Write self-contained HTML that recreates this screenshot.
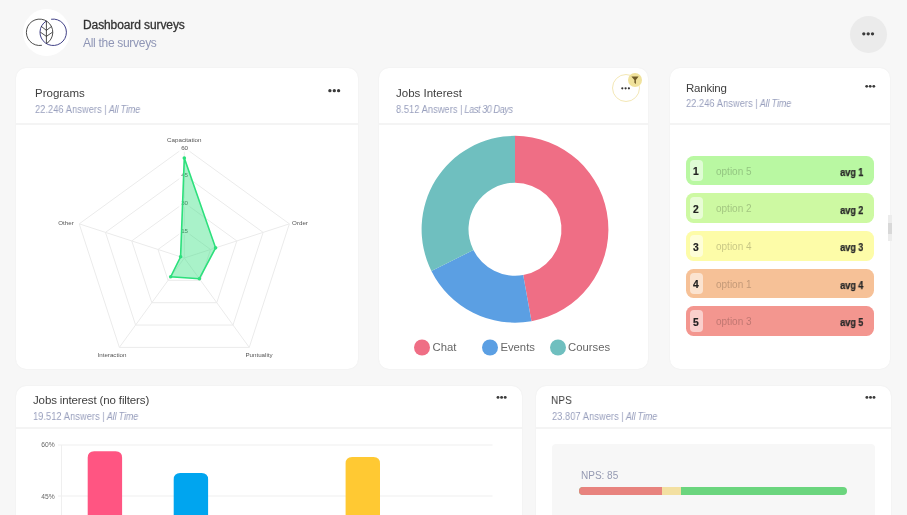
<!DOCTYPE html>
<html><head><meta charset="utf-8">
<style>
*{margin:0;padding:0;box-sizing:border-box}
html,body{width:907px;height:515px;overflow:hidden;background:#f7f7f7;font-family:"Liberation Sans",sans-serif}
.abs{position:absolute}
svg{will-change:transform}
.card{position:absolute;background:#fff;border-radius:10px;overflow:hidden;box-shadow:0 0 1.5px rgba(0,0,0,0.07)}
.t{position:absolute;white-space:nowrap;line-height:1;will-change:transform}
.title{color:#404040;font-size:11.5px;letter-spacing:0px}
.sub{color:#989fbd;font-size:10.2px;letter-spacing:-0.04px;transform-origin:0 0;transform:scaleX(0.9)}
.sub i{font-style:italic;letter-spacing:-0.25px}
.sub .n{letter-spacing:0.12px}
.sub .p{margin:0 2.4px 0 2.8px}
.div{position:absolute;left:0;right:0;height:2px;background:#f4f4f4}
.dots{position:absolute;height:4px}
.dots b{position:absolute;top:0;width:3.4px;height:3.4px;border-radius:50%;background:#333}
</style></head>
<body>
<!-- header -->
<div class="abs" style="left:23px;top:9px;width:47px;height:47px;border-radius:50%;background:#fff"></div>
<svg class="abs" style="left:0;top:0" width="100" height="70" viewBox="0 0 100 70">
  <path d="M41.89 45.30 A13.20 13.20 0 1 1 46.40 43.61" fill="none" stroke="#2e2e2e" stroke-width="0.85"/>
  <path d="M51.14 19.26 A13.20 13.20 0 1 1 46.32 21.03" fill="none" stroke="#2a2a78" stroke-width="0.9"/>
  <path d="M46.4 21 V43.4 M41.2 26.3 L46.4 30.4 L51.7 26.3 M40.2 32 L46.4 36.4 L52.7 32" fill="none" stroke="#2e2e2e" stroke-width="0.85"/>
</svg>
<div class="t" style="left:82.5px;top:18.6px;font-size:12px;color:#333;letter-spacing:-0.1px;-webkit-text-stroke:0.3px #333">Dashboard surveys</div>
<div class="t" style="left:82.5px;top:36.8px;font-size:12px;color:#8f96b6;letter-spacing:-0.3px">All the surveys</div>
<div class="abs" style="left:850px;top:16px;width:37px;height:37px;border-radius:50%;background:#ebebeb"></div>

<!-- card 1 Programs -->
<div class="card" style="left:16px;top:68px;width:342px;height:301px">
  <div class="t title" style="left:19px;top:20px">Programs</div>
  <div class="t sub" style="left:19px;top:37px"><span class="n">22.246 Answers</span><span class="p">|</span><i>All Time</i></div>
  <div class="div" style="top:55px"></div>
  </div>

<!-- card 2 Jobs Interest -->
<div class="card" style="left:379px;top:68px;width:269px;height:301px">
  <div class="t title" style="left:17px;top:20px">Jobs Interest</div>
  <div class="t sub" style="left:17px;top:37px;letter-spacing:-0.17px"><span class="n">8.512 Answers</span><span class="p">|</span><i style="letter-spacing:-0.5px">Last 30 Days</i></div>
  <div class="div" style="top:55px"></div>
</div>

<!-- card 3 Ranking -->
<div class="card" style="left:670px;top:68px;width:220px;height:301px">
  <div class="t title" style="left:16px;top:15px;letter-spacing:-0.22px">Ranking</div>
  <div class="t sub" style="left:16px;top:31px"><span class="n">22.246 Answers</span><span class="p">|</span><i>All Time</i></div>
  <div class="div" style="top:55px"></div>
  </div>

<!-- card 4 Jobs interest (no filters) -->
<div class="card" style="left:16px;top:386px;width:506px;height:200px">
  <div class="t title" style="left:17px;top:9px;letter-spacing:-0.13px">Jobs interest (no filters)</div>
  <div class="t sub" style="left:17px;top:26px"><span class="n">19.512 Answers</span><span class="p">|</span><i>All Time</i></div>
  <div class="div" style="top:41px"></div>
  </div>

<!-- card 5 NPS -->
<div class="card" style="left:536px;top:386px;width:355px;height:200px">
  <div class="t title" style="left:15px;top:9px;transform-origin:0 0;transform:scaleX(0.88)">NPS</div>
  <div class="t sub" style="left:16px;top:26px"><span class="n">23.807 Answers</span><span class="p">|</span><i>All Time</i></div>
  <div class="div" style="top:41px"></div>
  </div>

<!-- charts overlay -->
<svg class="abs" style="left:0;top:0" width="907" height="515" viewBox="0 0 907 515">
<!--radar-->
<polygon points="184.30,230.38 210.57,249.46 200.54,280.35 168.06,280.35 158.03,249.46" fill="none" stroke="#ebebeb" stroke-width="1"/>
<polygon points="184.30,202.75 236.85,240.93 216.78,302.70 151.82,302.70 131.75,240.93" fill="none" stroke="#ebebeb" stroke-width="1"/>
<polygon points="184.30,175.12 263.12,232.39 233.01,325.05 135.59,325.05 105.48,232.39" fill="none" stroke="#ebebeb" stroke-width="1"/>
<polygon points="184.30,147.50 289.39,223.85 249.25,347.40 119.35,347.40 79.21,223.85" fill="none" stroke="#ebebeb" stroke-width="1"/>
<line x1="184.30" y1="258.00" x2="184.30" y2="147.50" stroke="#ebebeb" stroke-width="1"/>
<line x1="184.30" y1="258.00" x2="289.39" y2="223.85" stroke="#ebebeb" stroke-width="1"/>
<line x1="184.30" y1="258.00" x2="249.25" y2="347.40" stroke="#ebebeb" stroke-width="1"/>
<line x1="184.30" y1="258.00" x2="119.35" y2="347.40" stroke="#ebebeb" stroke-width="1"/>
<line x1="184.30" y1="258.00" x2="79.21" y2="223.85" stroke="#ebebeb" stroke-width="1"/>
<g font-family="Liberation Sans" font-size="6.2" fill="#555" text-anchor="middle">
<rect x="178.8" y="225.8" width="11" height="9.2" fill="rgba(255,255,255,0.75)"/><text x="184.6" y="232.60">15</text>
<rect x="178.8" y="198.15" width="11" height="9.2" fill="rgba(255,255,255,0.75)"/><text x="184.6" y="204.95">30</text>
<rect x="178.8" y="170.5" width="11" height="9.2" fill="rgba(255,255,255,0.75)"/><text x="184.6" y="177.30">45</text>
<rect x="178.8" y="142.9" width="11" height="9.2" fill="rgba(255,255,255,0.75)"/><text x="184.6" y="149.70">60</text>
</g>
<polygon points="184.30,158.10 215.59,247.83 199.35,278.71 170.72,276.69 180.59,256.79" fill="rgba(40,222,120,0.4)" stroke="#2ce07c" stroke-width="1.6"/>
<circle cx="184.30" cy="158.10" r="1.8" fill="#2ce07c"/>
<circle cx="215.59" cy="247.83" r="1.8" fill="#2ce07c"/>
<circle cx="199.35" cy="278.71" r="1.8" fill="#2ce07c"/>
<circle cx="170.72" cy="276.69" r="1.8" fill="#2ce07c"/>
<circle cx="180.59" cy="256.79" r="1.8" fill="#2ce07c"/>
<!--/radar-->
<g font-family="Liberation Sans" font-size="6.2" fill="#555" text-anchor="middle">
<text x="184.3" y="141.5">Capacitation</text>
<text x="66" y="224.7">Other</text>
<text x="300" y="224.7">Order</text>
<text x="112" y="356.9">Interaction</text>
<text x="259" y="356.9">Puntuality</text>
</g>

<path d="M515.00 135.85 A93.4 93.4 0 0 1 531.46 321.19 L523.19 275.02 A46.5 46.5 0 0 0 515.00 182.75 Z" fill="#ef6e85"/>
<path d="M531.46 321.19 A93.4 93.4 0 0 1 431.41 270.92 L473.39 250.00 A46.5 46.5 0 0 0 523.19 275.02 Z" fill="#5b9fe3"/>
<path d="M431.41 270.92 A93.4 93.4 0 0 1 515.00 135.85 L515.00 182.75 A46.5 46.5 0 0 0 473.39 250.00 Z" fill="#6fbfbf"/>

<g font-family="Liberation Sans" font-size="11.3" fill="#666">
<circle cx="422" cy="347.5" r="8" fill="#ef6e85"/><text x="432.5" y="350.8">Chat</text>
<circle cx="490" cy="347.5" r="8" fill="#5b9fe3"/><text x="500.4" y="350.8">Events</text>
<circle cx="558" cy="347.5" r="8" fill="#6fbfbf"/><text x="568.1" y="350.8">Courses</text>
</g>
</svg>

<!-- ranking -->
<div class="abs" style="left:686px;top:155.7px;width:188px;height:29.8px;border-radius:7.5px;background:#b9f8a2">
  <div class="abs" style="left:4px;top:4px;width:12.6px;height:21.8px;border-radius:4px;background:rgba(255,255,255,0.55)"></div>
  <div class="t" style="left:7.4px;top:11.7px;font-size:10.3px;font-weight:bold;color:#222;-webkit-text-stroke:0.2px #222">1</div>
  <div class="t" style="left:29.7px;top:11.1px;font-size:10px;color:rgba(0,0,0,0.22)">option 5</div>
  <div class="t" style="right:11px;top:11.3px;font-size:10.5px;font-weight:bold;color:#2a2a2a;-webkit-text-stroke:0.25px #2a2a2a;letter-spacing:-0.1px;transform-origin:100% 0;transform:scaleX(0.88)">avg 1</div>
</div>
<div class="abs" style="left:686px;top:193.3px;width:188px;height:29.8px;border-radius:7.5px;background:#cdf9a2">
  <div class="abs" style="left:4px;top:4px;width:12.6px;height:21.8px;border-radius:4px;background:rgba(255,255,255,0.55)"></div>
  <div class="t" style="left:7.4px;top:11.7px;font-size:10.3px;font-weight:bold;color:#222;-webkit-text-stroke:0.2px #222">2</div>
  <div class="t" style="left:29.7px;top:11.1px;font-size:10px;color:rgba(0,0,0,0.22)">option 2</div>
  <div class="t" style="right:11px;top:11.3px;font-size:10.5px;font-weight:bold;color:#2a2a2a;-webkit-text-stroke:0.25px #2a2a2a;letter-spacing:-0.1px;transform-origin:100% 0;transform:scaleX(0.88)">avg 2</div>
</div>
<div class="abs" style="left:686px;top:230.9px;width:188px;height:29.8px;border-radius:7.5px;background:#fdfca8">
  <div class="abs" style="left:4px;top:4px;width:12.6px;height:21.8px;border-radius:4px;background:rgba(255,255,255,0.55)"></div>
  <div class="t" style="left:7.4px;top:11.7px;font-size:10.3px;font-weight:bold;color:#222;-webkit-text-stroke:0.2px #222">3</div>
  <div class="t" style="left:29.7px;top:11.1px;font-size:10px;color:rgba(0,0,0,0.22)">option 4</div>
  <div class="t" style="right:11px;top:11.3px;font-size:10.5px;font-weight:bold;color:#2a2a2a;-webkit-text-stroke:0.25px #2a2a2a;letter-spacing:-0.1px;transform-origin:100% 0;transform:scaleX(0.88)">avg 3</div>
</div>
<div class="abs" style="left:686px;top:268.5px;width:188px;height:29.8px;border-radius:7.5px;background:#f6c197">
  <div class="abs" style="left:4px;top:4px;width:12.6px;height:21.8px;border-radius:4px;background:rgba(255,255,255,0.55)"></div>
  <div class="t" style="left:7.4px;top:11.7px;font-size:10.3px;font-weight:bold;color:#222;-webkit-text-stroke:0.2px #222">4</div>
  <div class="t" style="left:29.7px;top:11.1px;font-size:10px;color:rgba(0,0,0,0.22)">option 1</div>
  <div class="t" style="right:11px;top:11.3px;font-size:10.5px;font-weight:bold;color:#2a2a2a;-webkit-text-stroke:0.25px #2a2a2a;letter-spacing:-0.1px;transform-origin:100% 0;transform:scaleX(0.88)">avg 4</div>
</div>
<div class="abs" style="left:686px;top:306.1px;width:188px;height:29.8px;border-radius:7.5px;background:#f3968f">
  <div class="abs" style="left:4px;top:4px;width:12.6px;height:21.8px;border-radius:4px;background:rgba(255,255,255,0.55)"></div>
  <div class="t" style="left:7.4px;top:11.7px;font-size:10.3px;font-weight:bold;color:#222;-webkit-text-stroke:0.2px #222">5</div>
  <div class="t" style="left:29.7px;top:11.1px;font-size:10px;color:rgba(0,0,0,0.22)">option 3</div>
  <div class="t" style="right:11px;top:11.3px;font-size:10.5px;font-weight:bold;color:#2a2a2a;-webkit-text-stroke:0.25px #2a2a2a;letter-spacing:-0.1px;transform-origin:100% 0;transform:scaleX(0.88)">avg 5</div>
</div>

<div class="abs" style="left:888px;top:214.6px;width:4px;height:26.2px;background:#ececec"></div>
<div class="abs" style="left:888px;top:223.3px;width:4px;height:10.7px;background:#d8d8d8"></div>
<!-- filter button card 2 -->
<div class="abs" style="left:611.8px;top:74.3px;width:28px;height:28px;border-radius:50%;border:1px solid #f3e7b5;background:#fff"></div>
<div class="abs" style="left:628px;top:73px;width:14px;height:14px;border-radius:50%;background:#f0e29c"></div>
<svg class="abs" style="left:628px;top:73px" width="14" height="14" viewBox="0 0 14 14"><path d="M3.4 3.4 H10.6 L7.9 7 V11 L6.4 9.8 V7 Z" fill="#6e5a28"/></svg>
<!-- bar chart -->
<svg class="abs" style="left:0;top:0" width="907" height="515" viewBox="0 0 907 515">
<g stroke="#efefef" stroke-width="1">
<line x1="58" y1="445" x2="492.5" y2="445"/>
<line x1="58" y1="496" x2="492.5" y2="496"/>
<line x1="61.5" y1="445" x2="61.5" y2="515"/>
</g>
<g font-family="Liberation Sans" font-size="6.7" fill="#666" text-anchor="end">
<text x="54.7" y="447">60%</text>
<text x="54.7" y="498.5">45%</text>
</g>
<path d="M87.7 515 V457.8 Q87.7 451.3 94.2 451.3 H115.6 Q122.1 451.3 122.1 457.8 V515 Z" fill="#ff5582"/>
<path d="M173.7 515 V479.6 Q173.7 473.1 180.2 473.1 H201.6 Q208.1 473.1 208.1 479.6 V515 Z" fill="#00a5ef"/>
<path d="M345.6 515 V463.4 Q345.6 456.9 352.1 456.9 H373.5 Q380 456.9 380 463.4 V515 Z" fill="#ffc933"/>
</svg>
<!-- NPS -->
<div class="abs" style="left:552px;top:443.8px;width:323px;height:100px;border-radius:4px;background:#f7f7f7"></div>
<div class="t" style="left:580.6px;top:470.5px;font-size:10px;color:#959ab2">NPS: 85</div>
<div class="abs" style="left:579px;top:486.6px;width:268.3px;height:8.3px;border-radius:4.2px;overflow:hidden;background:#6bd57e">
  <div class="abs" style="left:0;top:0;width:83px;height:100%;background:#e8837e"></div>
  <div class="abs" style="left:83px;top:0;width:18.8px;height:100%;background:#f3e0a2"></div>
</div>
<svg class="abs" style="left:0;top:0" width="907" height="515" viewBox="0 0 907 515"><circle cx="863.8" cy="33.8" r="1.65" fill="#3a3a3a"/><circle cx="868.2" cy="33.8" r="1.65" fill="#3a3a3a"/><circle cx="872.5" cy="33.8" r="1.65" fill="#3a3a3a"/><circle cx="329.9" cy="90.7" r="1.65" fill="#3a3a3a"/><circle cx="334.3" cy="90.7" r="1.65" fill="#3a3a3a"/><circle cx="338.6" cy="90.7" r="1.65" fill="#3a3a3a"/><circle cx="866.7" cy="86.3" r="1.4" fill="#3a3a3a"/><circle cx="870.2" cy="86.3" r="1.4" fill="#3a3a3a"/><circle cx="873.8" cy="86.3" r="1.4" fill="#3a3a3a"/><circle cx="498" cy="397.4" r="1.45" fill="#3a3a3a"/><circle cx="501.6" cy="397.4" r="1.45" fill="#3a3a3a"/><circle cx="505.2" cy="397.4" r="1.45" fill="#3a3a3a"/><circle cx="866.9" cy="397.4" r="1.45" fill="#3a3a3a"/><circle cx="870.5" cy="397.4" r="1.45" fill="#3a3a3a"/><circle cx="874" cy="397.4" r="1.45" fill="#3a3a3a"/><circle cx="622.3" cy="88.3" r="1.1" fill="#333"/><circle cx="625.6" cy="88.3" r="1.1" fill="#333"/><circle cx="628.9" cy="88.3" r="1.1" fill="#333"/></svg>
</body></html>
